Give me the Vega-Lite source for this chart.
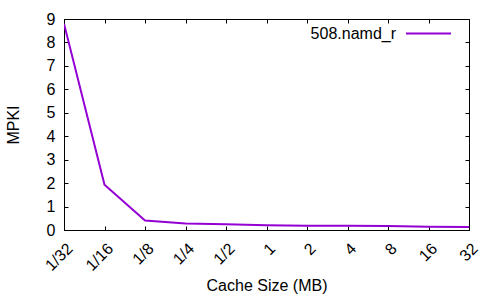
{
  "$schema": "https://vega.github.io/schema/vega-lite/v6.json",
  "width": 405,
  "height": 211,
  "autosize": {"type": "none"},
  "padding": {"left": 64, "top": 19, "right": 31, "bottom": 70},
  "background": "white",
  "config": {
    "font": "Liberation Sans",
    "view": {"stroke": "black", "strokeWidth": 1},
    "axis": {
      "grid": false,
      "domainColor": "black",
      "tickColor": "black",
      "tickSize": -4,
      "labelFontSize": 16,
      "titleFontSize": 16,
      "labelColor": "black",
      "titleColor": "black",
      "titleFontWeight": "normal",
      "labelFont": "Liberation Sans",
      "titleFont": "Liberation Sans"
    }
  },
  "data": {
    "values": [
      {"size": 0.03125, "mpki": 8.8, "series": "508.namd_r"},
      {"size": 0.0625, "mpki": 1.93, "series": "508.namd_r"},
      {"size": 0.125, "mpki": 0.4, "series": "508.namd_r"},
      {"size": 0.25, "mpki": 0.28, "series": "508.namd_r"},
      {"size": 0.5, "mpki": 0.24, "series": "508.namd_r"},
      {"size": 1, "mpki": 0.2, "series": "508.namd_r"},
      {"size": 2, "mpki": 0.18, "series": "508.namd_r"},
      {"size": 4, "mpki": 0.18, "series": "508.namd_r"},
      {"size": 8, "mpki": 0.17, "series": "508.namd_r"},
      {"size": 16, "mpki": 0.14, "series": "508.namd_r"},
      {"size": 32, "mpki": 0.13, "series": "508.namd_r"}
    ]
  },
  "layer": [
    {
      "mark": {"type": "line", "strokeWidth": 2, "clip": true},
      "encoding": {
        "x": {
          "field": "size",
          "type": "quantitative",
          "scale": {"type": "log", "base": 2, "domain": [0.03125, 32], "nice": false},
          "axis": {
            "orient": "bottom",
            "title": "Cache Size (MB)",
            "values": [0.03125, 0.0625, 0.125, 0.25, 0.5, 1, 2, 4, 8, 16, 32],
            "labelExpr": "datum.value < 1 ? '1/' + round(1/datum.value) : '' + datum.value",
            "labelAngle": -45,
            "labelAlign": "right",
            "labelBaseline": "top",
            "labelPadding": 14,
            "labelFlush": false,
            "labelOverlap": false,
            "titlePadding": 4
          }
        },
        "y": {
          "field": "mpki",
          "type": "quantitative",
          "scale": {"domain": [0, 9], "nice": false},
          "axis": {
            "orient": "left",
            "title": "MPKI",
            "values": [0, 1, 2, 3, 4, 5, 6, 7, 8, 9],
            "labelPadding": 13,
            "titlePadding": 25,
            "labelFlush": false
          }
        },
        "color": {
          "field": "series",
          "type": "nominal",
          "scale": {"domain": ["508.namd_r"], "range": ["#9400d3"]},
          "legend": {
            "title": null,
            "orient": "none",
            "legendX": 341,
            "legendY": -9,
            "padding": 0,
            "symbolType": "stroke",
            "symbolSize": 2025,
            "symbolStrokeWidth": 2,
            "labelFontSize": 16,
            "labelColor": "black",
            "labelAlign": "right",
            "labelOffset": -56,
            "labelFont": "Liberation Sans"
          }
        }
      }
    },
    {
      "mark": {"type": "line", "strokeOpacity": 0},
      "encoding": {
        "x": {
          "field": "size",
          "type": "quantitative",
          "scale": {"type": "log", "base": 2, "domain": [0.03125, 32], "nice": false},
          "axis": {
            "orient": "top",
            "title": null,
            "labels": false,
            "domain": false,
            "values": [0.03125, 0.0625, 0.125, 0.25, 0.5, 1, 2, 4, 8, 16, 32]
          }
        },
        "y": {
          "field": "mpki",
          "type": "quantitative",
          "scale": {"domain": [0, 9], "nice": false},
          "axis": {
            "orient": "right",
            "title": null,
            "labels": false,
            "domain": false,
            "values": [0, 1, 2, 3, 4, 5, 6, 7, 8, 9]
          }
        }
      }
    }
  ],
  "resolve": {"axis": {"x": "independent", "y": "independent"}}
}
